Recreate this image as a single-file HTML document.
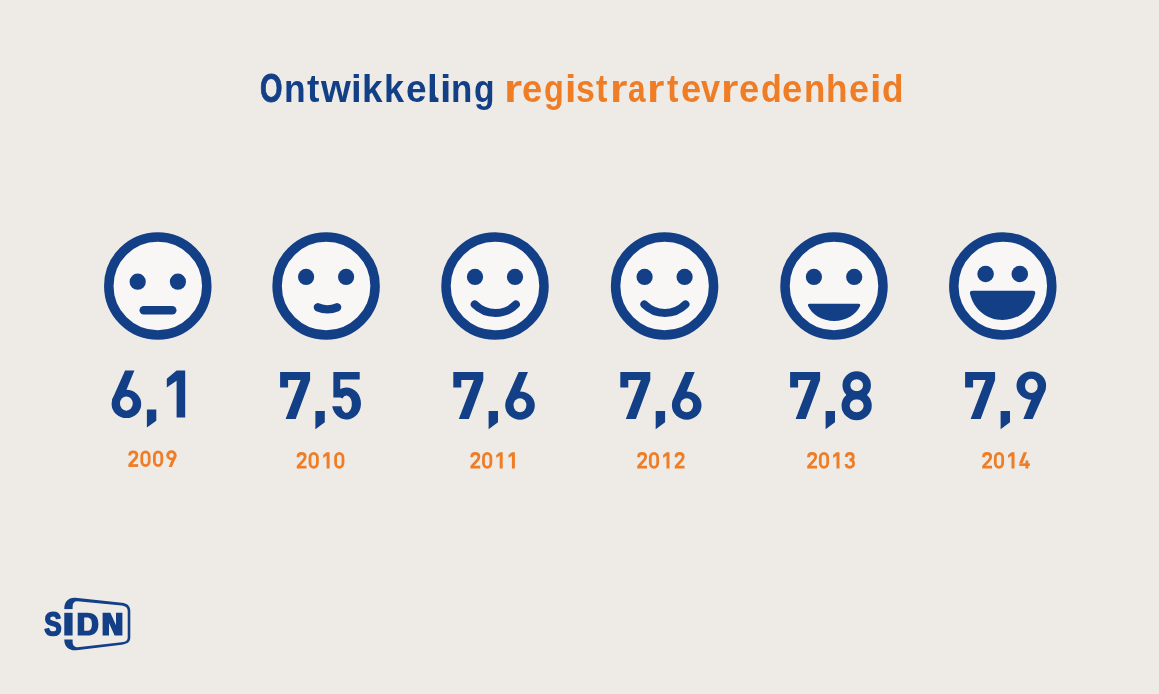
<!DOCTYPE html>
<html lang="nl">
<head>
<meta charset="utf-8">
<title>Ontwikkeling registrartevredenheid</title>
<style>
  html, body { margin: 0; padding: 0; }
  body {
    width: 1159px; height: 694px; overflow: hidden; position: relative;
    background: #eeebe7;
    font-family: "Liberation Sans", sans-serif;
  }
  #title { position:absolute; left:0; top:69.81px; font-size:38.5px; font-weight:bold; line-height:1; white-space:nowrap; will-change:transform; filter:blur(0.6px); }
  #title span span { position:absolute; top:0; transform-origin:0 0; }
  #title .sp { position:absolute; left:495px; }
  #title .b { color:#133f87; }
  #title .o { color:#ee7d26; }
  .lbl { position: absolute; line-height: 1; white-space: nowrap; color: transparent; font-weight: bold; }
  .lbl.n { font-size: 66px; top: 362px; }
  .lbl.y { font-size: 22px; top: 449px; }
  svg { position: absolute; left: 0; top: 0; filter: blur(0.6px); }
</style>
</head>
<body>
<div id="title"><span class="b"><span style="left:259.75px;transform-origin:0 32.59px;transform:scale(0.7486,1.044);-webkit-text-stroke:0.9px #133f87">O</span><span style="left:283.67px;transform:scaleX(0.9197)">n</span><span style="left:307.05px;transform:scaleX(0.9679)">t</span><span style="left:320.71px;transform:scaleX(0.9955)">w</span><span style="left:351.08px;transform:scaleX(0.9939)">i</span><span style="left:361.82px;transform:scaleX(0.9594)">k</span><span style="left:383.69px;transform:scaleX(0.9354)">k</span><span style="left:406.31px;transform:scaleX(0.9601)">e</span><span style="left:427.30px;transform:scaleX(1.0033)">l</span><span style="left:439.65px;transform:scaleX(1.0601)">i</span><span style="left:451.45px;transform:scaleX(0.9063)">n</span><span style="left:474.22px;transform:scaleX(0.8728)">g</span></span><span class="sp"> </span><span class="o"><span style="left:503.83px;transform:scaleX(1.2097)">r</span><span style="left:522.33px;transform:scaleX(0.9413)">e</span><span style="left:544.27px;transform:scaleX(0.8418)">g</span><span style="left:564.65px;transform:scaleX(1.0601)">i</span><span style="left:576.31px;transform:scaleX(0.8794)">s</span><span style="left:596.48px;transform:scaleX(0.8922)">t</span><span style="left:609.56px;transform:scaleX(1.1592)">r</span><span style="left:627.82px;transform:scaleX(0.8208)">a</span><span style="left:647.06px;transform:scaleX(1.1592)">r</span><span style="left:667.08px;transform:scaleX(0.8922)">t</span><span style="left:681.08px;transform:scaleX(0.9413)">e</span><span style="left:701.12px;transform:scaleX(0.8890)">v</span><span style="left:721.47px;transform:scaleX(1.1549)">r</span><span style="left:738.58px;transform:scaleX(0.9413)">e</span><span style="left:760.51px;transform:scaleX(0.8814)">d</span><span style="left:782.33px;transform:scaleX(0.9413)">e</span><span style="left:803.95px;transform:scaleX(0.9063)">n</span><span style="left:826.29px;transform:scaleX(0.9137)">h</span><span style="left:849.40px;transform:scaleX(0.9305)">e</span><span style="left:870.22px;transform:scaleX(1.0696)">i</span><span style="left:882.06px;transform:scaleX(0.9149)">d</span></span></div>

<svg width="1159" height="694" viewBox="0 0 1159 694" role="img" aria-label="Smileys, cijfers en jaartallen">
    <defs>
    <!-- DIN-like digit glyphs: origin = left edge / baseline, y up is negative -->
    <path id="g7" d="M0,-46.9 H30 V-39.1 L15.6,0 H5.5 L20.5,-39.1 H8 V-31.6 H0 Z"/>
    <path id="g1" d="M9.8,-46.9 H18.4 V0 H9.8 V-36.6 L0,-29.9 V-38.7 Z"/>
    <path id="gc" d="M0,-7.9 H9.4 V3.3 L0,10.2 Z"/>
    <g id="g6">
      <ellipse cx="14.8" cy="-13.45" rx="14.8" ry="14.15"/>
      <path d="M13.5,-46.9 H22.8 L14.8,-27.5 V-13 H1.5 L0.55,-18 Z"/>
      <ellipse cx="14.75" cy="-13.8" rx="6.4" ry="7.05" fill="#eeebe7"/>
    </g>
    <g id="g9"><use href="#g6" transform="rotate(180 14.8 -23.45)"/></g>
    <g id="g8">
      <ellipse cx="15.2" cy="-33.75" rx="10.3" ry="9.95" fill="none" stroke="#133f87" stroke-width="7.9"/>
      <ellipse cx="15.15" cy="-13.3" rx="11.05" ry="10.5" fill="none" stroke="#133f87" stroke-width="8.1"/>
    </g>
    <g id="g5">
      <path d="M1.15,-46.95 H27.5 V-39.4 H8.06 V-30 A14.5,16.05 0 1 1 0,-12.8 H9.07 A5.4,8.65 0 1 0 10.2,-20.6 L8.06,-21.45 H1.15 Z"/>
    </g>
    <g id="g0"><rect x="4" y="-43.4" width="21.3" height="40" rx="10.65" ry="12.5" fill="none" stroke="currentColor" stroke-width="8"/></g>
    <g id="g2">
      <path d="M4.3,-32.5 C4.3,-39.5 9,-43.2 14.7,-43.2 C20.5,-43.2 25,-39.5 25,-33.8 C25,-29.5 23,-26.3 20.3,-23.3 L4.4,-6" fill="none" stroke="currentColor" stroke-width="8"/>
      <rect x="0.6" y="-7.9" width="28.2" height="7.9" fill="currentColor"/>
    </g>
    <g id="g3">
      <path d="M4.2,-33 C4.2,-39.5 8.8,-43.2 14.5,-43.2 C20,-43.2 24.3,-39.8 24.3,-34 C24.3,-28 20.5,-24.8 13.5,-24.8 C21,-24.8 25.3,-20.5 25.3,-14 C25.3,-7.5 20.5,-3.6 14.5,-3.6 C8.5,-3.6 3.7,-7 3.7,-13" fill="none" stroke="currentColor" stroke-width="8"/>
    </g>
    <g id="g4">
      <path d="M12.7,-46.9 H22.3 L9.6,-14.9 H0 Z" fill="currentColor"/>
      <rect x="0" y="-14.9" width="30.5" height="7.5" fill="currentColor"/>
      <rect x="17.9" y="-23.1" width="8.2" height="23.1" fill="currentColor"/>
    </g>
  </defs>
  <g fill="#133f87">
    <!-- face 1 -->
    <g transform="translate(157.8 286)">
      <circle r="49" fill="#f8f7f6" stroke="#133f87" stroke-width="9.5"/>
      <circle cx="-20.1" cy="-4.3" r="8.1"/>
      <circle cx="20.1" cy="-4.3" r="8.1"/>
      <rect x="-18.3" y="20" width="37" height="8.6" rx="4.3"/>
    </g>
    <!-- face 2 -->
    <g transform="translate(326.1 286)">
      <circle r="49" fill="#f8f7f6" stroke="#133f87" stroke-width="9.5"/>
      <circle cx="-20" cy="-9.1" r="8.1"/>
      <circle cx="20" cy="-9.1" r="8.1"/>
      <path d="M-8.2 21.3 Q1.4 25.5 11 21.3" fill="none" stroke="#133f87" stroke-width="8.4" stroke-linecap="round"/>
    </g>
    <!-- face 3 -->
    <g transform="translate(495 286)">
      <circle r="49" fill="#f8f7f6" stroke="#133f87" stroke-width="9.5"/>
      <circle cx="-20" cy="-9.1" r="8.1"/>
      <circle cx="20" cy="-9.1" r="8.1"/>
      <path d="M-20.3 18.4 A29.1 29.1 0 0 0 20.9 18.4" fill="none" stroke="#133f87" stroke-width="7.9" stroke-linecap="round"/>
    </g>
    <!-- face 4 -->
    <g transform="translate(664.6 286)">
      <circle r="49" fill="#f8f7f6" stroke="#133f87" stroke-width="9.5"/>
      <circle cx="-20" cy="-9.1" r="8.1"/>
      <circle cx="20" cy="-9.1" r="8.1"/>
      <path d="M-20.3 18.4 A29.1 29.1 0 0 0 20.9 18.4" fill="none" stroke="#133f87" stroke-width="7.9" stroke-linecap="round"/>
    </g>
    <!-- face 5 -->
    <g transform="translate(834 286)">
      <circle r="49" fill="#f8f7f6" stroke="#133f87" stroke-width="9.5"/>
      <circle cx="-20.1" cy="-9.1" r="8.1"/>
      <circle cx="20.2" cy="-9.1" r="8.1"/>
      <path d="M-24.4 17.7 H24.7 Q26.8 17.7 26.2 19.8 C22 29 12 35 0.2 35 C-12 35 -22 29 -26 19.8 Q-26.6 17.7 -24.4 17.7 Z"/>
    </g>
    <!-- face 6 -->
    <g transform="translate(1002.8 286)">
      <circle r="49" fill="#f8f7f6" stroke="#133f87" stroke-width="9.5"/>
      <circle cx="-17.2" cy="-12" r="8.3"/>
      <circle cx="17" cy="-12" r="8.3"/>
      <path d="M-30.6 4.7 H30.2 Q32.9 4.7 32.4 7.4 C29 23 16 33.9 -0.2 33.9 C-16.4 33.9 -29.4 23 -32.8 7.4 Q-33.3 4.7 -30.6 4.7 Z"/>
    </g>
  </g>
  <g fill="#133f87">
    <!-- 6,1 -->
    <use href="#g6" x="111.6" y="417.4"/><use href="#gc" x="146.9" y="417.4"/><use href="#g1" x="166.8" y="417.4"/>
    <!-- 7,5 -->
    <use href="#g7" x="280.1" y="419"/><use href="#gc" x="315.4" y="419"/><use href="#g5" x="332.2" y="419"/>
    <!-- 7,6 -->
    <use href="#g7" x="453.3" y="419"/><use href="#gc" x="488.6" y="419"/><use href="#g6" x="505.2" y="419"/>
    <!-- 7,6 -->
    <use href="#g7" x="620.3" y="419"/><use href="#gc" x="655.7" y="419"/><use href="#g6" x="671.9" y="419"/>
    <!-- 7,8 -->
    <use href="#g7" x="790.1" y="419"/><use href="#gc" x="825.6" y="419"/><use href="#g8" x="841.5" y="419"/>
    <!-- 7,9 -->
    <use href="#g7" x="965.1" y="419"/><use href="#gc" x="1000.6" y="419"/><use href="#g9" x="1016.5" y="419"/>
  </g>
  <!-- curved foot of the DIN-style "l" in the title -->
  <path fill="#133f87" d="M433,95 V102 H438.4 V97.9 C436.4,97.9 435.3,97.2 435.3,95 Z"/>
  <!-- years -->
  <g fill="#ee7d26" color="#ee7d26">
    <use href="#g2" transform="translate(128.15 466.90) scale(0.3475)"/><use href="#g0" transform="translate(140.40 466.90) scale(0.3475)"/><use href="#g0" transform="translate(153.00 466.90) scale(0.3475)"/><use href="#g9" transform="translate(166.30 466.90) scale(0.3475)"/>
    <use href="#g2" transform="translate(296.50 468.50) scale(0.3475)"/><use href="#g0" transform="translate(308.60 468.50) scale(0.3475)"/><use href="#g1" transform="translate(323.20 468.50) scale(0.3475)"/><use href="#g0" transform="translate(334.20 468.50) scale(0.3475)"/>
    <use href="#g2" transform="translate(470.20 468.50) scale(0.3475)"/><use href="#g0" transform="translate(482.10 468.50) scale(0.3475)"/><use href="#g1" transform="translate(496.30 468.50) scale(0.3475)"/><use href="#g1" transform="translate(508.50 468.50) scale(0.3475)"/>
    <use href="#g2" transform="translate(637.00 468.50) scale(0.3475)"/><use href="#g0" transform="translate(648.90 468.50) scale(0.3475)"/><use href="#g1" transform="translate(663.10 468.50) scale(0.3475)"/><use href="#g2" transform="translate(674.50 468.50) scale(0.3475)"/>
    <use href="#g2" transform="translate(807.00 468.50) scale(0.3475)"/><use href="#g0" transform="translate(818.90 468.50) scale(0.3475)"/><use href="#g1" transform="translate(833.10 468.50) scale(0.3475)"/><use href="#g3" transform="translate(844.80 468.50) scale(0.3475)"/>
    <use href="#g2" transform="translate(982.00 468.50) scale(0.3475)"/><use href="#g0" transform="translate(993.90 468.50) scale(0.3475)"/><use href="#g1" transform="translate(1008.10 468.50) scale(0.3475)"/><use href="#g4" transform="translate(1019.25 468.50) scale(0.3475)"/>
  </g>
  <!-- SIDN logo -->
  <g id="logo" fill="#133f87">
    <path d="M64.3,608.5 C64.3,601.5 68.5,597.3 75.5,597.8 L121.8,602.7 C127.5,603.4 130.3,606 130.3,611 V637.6 C130.3,642 127.5,644 121.8,644.7 L76.5,650.3 C69,651 64.3,646.5 64.3,640 Z"/>
    <path fill="#eeebe7" d="M72.6,606.5 C72.6,603 74.5,601 77.5,601.3 L121.5,605.6 C125.8,606.2 127.7,607.8 127.7,611.5 V637.2 C127.7,640.5 125.8,641.8 121.5,642.3 L77.5,647.2 C74.5,647.5 72.6,645.5 72.6,642 Z"/>
    <rect fill="#eeebe7" x="63" y="609.1" width="11" height="3.7"/>
    <rect fill="#eeebe7" x="63" y="635.5" width="11" height="4"/>
    <path fill-rule="evenodd" d="M77.7,612.8 H87 C95,612.8 98.4,617 98.4,624.15 C98.4,631.3 95,635.5 87,635.5 H77.7 Z M84.2,617.6 H86.8 C90.5,617.6 91.9,619.8 91.9,624.15 C91.9,628.5 90.5,630.8 86.8,630.8 H84.2 Z"/>
    <path d="M102.6,635.5 V612.8 H110.4 L116,625.2 V612.8 H122.4 V635.5 H114.6 L109,623.1 V635.5 Z"/>
    <path stroke="#133f87" stroke-width="1.5" stroke-linejoin="round" d="M60.6 628.76Q60.6 632.08 58.65 633.84Q56.7 635.6 52.92 635.6Q49.48 635.6 47.52 634.06Q45.56 632.52 45 629.38L48.62 628.63Q48.99 630.43 50.06 631.24Q51.13 632.05 53.02 632.05Q56.95 632.05 56.95 629.03Q56.95 628.07 56.5 627.44Q56.05 626.81 55.23 626.4Q54.41 625.98 52.08 625.38Q50.07 624.79 49.29 624.43Q48.5 624.07 47.86 623.58Q47.23 623.09 46.78 622.4Q46.34 621.71 46.09 620.77Q45.84 619.84 45.84 618.64Q45.84 615.57 47.66 613.94Q49.49 612.31 52.97 612.31Q56.3 612.31 57.98 613.63Q59.65 614.94 60.13 617.98L56.49 618.61Q56.21 617.14 55.36 616.4Q54.5 615.67 52.9 615.67Q49.49 615.67 49.49 618.36Q49.49 619.25 49.85 619.81Q50.21 620.37 50.93 620.77Q51.64 621.16 53.81 621.75Q56.39 622.44 57.51 623.03Q58.62 623.62 59.27 624.4Q59.91 625.18 60.26 626.26Q60.6 627.34 60.6 628.76Z"/>
  </g>
</svg>



<div class="lbl n" style="left:111px">6,1</div><div class="lbl y" style="left:128px">2009</div>
<div class="lbl n" style="left:280px">7,5</div><div class="lbl y" style="left:296px">2010</div>
<div class="lbl n" style="left:453px">7,6</div><div class="lbl y" style="left:470px">2011</div>
<div class="lbl n" style="left:620px">7,6</div><div class="lbl y" style="left:637px">2012</div>
<div class="lbl n" style="left:790px">7,8</div><div class="lbl y" style="left:807px">2013</div>
<div class="lbl n" style="left:965px">7,9</div><div class="lbl y" style="left:982px">2014</div>
<div class="lbl y" style="left:44px;top:612px;font-size:30px">SIDN</div>
</body>
</html>
